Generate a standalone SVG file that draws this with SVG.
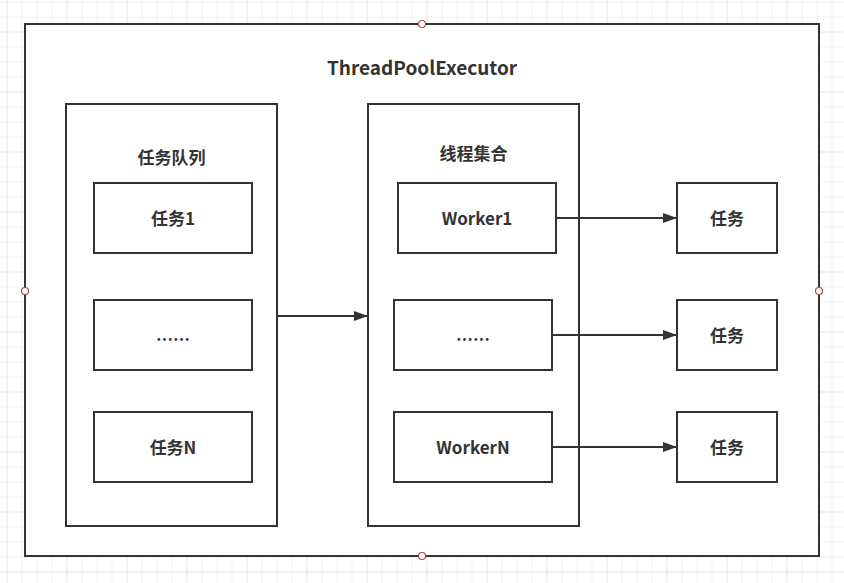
<svg xmlns="http://www.w3.org/2000/svg" width="844" height="583" viewBox="0 0 844 583">
<style>
.box{fill:#fff;stroke:#333;stroke-width:2}
.cont{fill:none;stroke:#333;stroke-width:2}
.lbl{font-family:"Noto Sans CJK SC","Noto Sans",sans-serif;font-weight:bold;font-size:17px;fill:#333;text-anchor:middle;dominant-baseline:central}
.title{font-size:19px}
.conn{stroke:#333;stroke-width:2;fill:none;marker-end:url(#arr)}
.pt{fill:#fff;stroke:#b04a4a;stroke-width:1.2}
</style>
<defs>
<pattern id="g" x="6.5" y="1.5" width="15" height="15" patternUnits="userSpaceOnUse">
<path d="M0,0 V15 M0,0 H15" stroke="#e8e8e8" stroke-width="1" fill="none"/>
</pattern>
<pattern id="G" x="6.5" y="31.5" width="60" height="60" patternUnits="userSpaceOnUse">
<path d="M0,0 V60 M0,0 H60" stroke="#dedede" stroke-width="1" fill="none"/>
</pattern>
<marker id="arr" markerWidth="14" markerHeight="10" refX="13" refY="5" orient="auto" markerUnits="userSpaceOnUse">
<path d="M0,0 L14,5 L0,10 z" fill="#333"/>
</marker>
</defs>
<rect width="844" height="583" fill="#fff"/>
<rect width="844" height="583" fill="url(#g)"/>
<rect width="844" height="583" fill="url(#G)"/>

<g id="threadPoolExecutor">
<rect class="box" x="25" y="24" width="794" height="532"/>
<text class="lbl title" x="422" y="66">ThreadPoolExecutor</text>
<circle class="pt" cx="422" cy="24" r="3.5"/>
<circle class="pt" cx="25" cy="291" r="3.5"/>
<circle class="pt" cx="819" cy="291" r="3.5"/>
<circle class="pt" cx="422" cy="556" r="3.5"/>
</g>

<g id="taskQueue">
<rect class="cont" x="66" y="104" width="211" height="422"/>
<text class="lbl" x="171.5" y="156">任务队列</text>
</g>
<g id="task1"><rect class="box" x="94" y="183" width="158" height="70"/><text class="lbl" x="173" y="217.5">任务1</text></g>
<g id="taskEllipsis"><rect class="box" x="94" y="300" width="158" height="70"/><text class="lbl" x="173" y="338">……</text></g>
<g id="taskN"><rect class="box" x="94" y="412" width="158" height="70"/><text class="lbl" x="173" y="446.5">任务N</text></g>

<g id="workerSet">
<rect class="cont" x="368" y="104" width="211" height="422"/>
<text class="lbl" x="473.5" y="152">线程集合</text>
</g>
<g id="worker1"><rect class="box" x="398" y="183" width="158" height="70"/><text class="lbl" x="477" y="217.5">Worker1</text></g>
<g id="workerEllipsis"><rect class="box" x="394" y="300" width="158" height="70"/><text class="lbl" x="473" y="338">……</text></g>
<g id="workerN"><rect class="box" x="394" y="412" width="158" height="70"/><text class="lbl" x="473" y="446.5">WorkerN</text></g>

<g id="result1"><rect class="box" x="677" y="183" width="100" height="70"/><text class="lbl" x="727" y="217.5">任务</text></g>
<g id="result2"><rect class="box" x="677" y="300" width="100" height="70"/><text class="lbl" x="727" y="334.5">任务</text></g>
<g id="result3"><rect class="box" x="677" y="412" width="100" height="70"/><text class="lbl" x="727" y="446.5">任务</text></g>

<g id="connectors">
<line class="conn" x1="277" y1="316" x2="367" y2="316"/>
<line class="conn" x1="556" y1="218" x2="676" y2="218"/>
<line class="conn" x1="552" y1="335" x2="676" y2="335"/>
<line class="conn" x1="552" y1="447" x2="676" y2="447"/>
</g>
</svg>
